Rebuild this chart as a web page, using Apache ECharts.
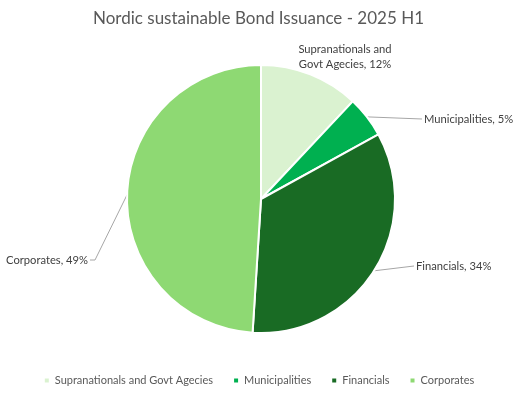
<!DOCTYPE html>
<html>
<head>
<meta charset="utf-8">
<script src="https://cdn.jsdelivr.net/npm/echarts@6/dist/echarts.min.js"></script>
<style>html,body{margin:0;padding:0;background:#fff}#c{width:517px;height:396px}</style>
</head>
<body>
<div id="c"></div>
<script>
const categories = ['Supranationals and Govt Agecies', 'Municipalities', 'Financials', 'Corporates'];
const labelTexts = ['Supranationals and\nGovt Agecies', 'Municipalities', 'Financials', 'Corporates'];
const shares = [12, 5, 34, 49];
const colors = ['#DAF2D0', '#00B050', '#196B24', '#8ED973'];
const labelSpots = [
  {x: 345, y: 57, align: 'center'},
  {x: 424, y: 119, align: 'left'},
  {x: 416, y: 266, align: 'left'},
  {x: 88, y: 260, align: 'right'}
];
const font = 'Lato, Open Sans, sans-serif';
const CX = 261, CY = 199, R = 134;
const chart = echarts.init(document.getElementById('c'));
function edgePoint(i) {
  const total = shares.reduce((a, b) => a + b, 0);
  let before = 0;
  for (let k = 0; k < i; k++) before += shares[k];
  const mid = (before + shares[i] / 2) / total * Math.PI * 2;
  return [CX + R * Math.sin(mid), CY - R * Math.cos(mid)];
}
chart.setOption({
  animation: false,
  title: {
    text: 'Nordic sustainable Bond Issuance - 2025 H1',
    left: 'center', top: 5,
    textStyle: {fontFamily: font, fontSize: 17, fontWeight: 'normal', color: '#595959'}
  },
  legend: {
    bottom: 5, left: 'center',
    itemWidth: 6, itemHeight: 6, itemGap: 19, icon: 'rect',
    textStyle: {fontFamily: font, fontSize: 11, color: '#595959'},
    data: categories
  },
  series: [{
    type: 'pie',
    center: [CX, CY],
    radius: R,
    startAngle: 90,
    clockwise: true,
    itemStyle: {borderColor: '#fff', borderWidth: 2},
    label: {
      show: true, overflow: 'none',
      fontFamily: font, fontSize: 11.2, color: '#404040', lineHeight: 15,
      formatter: p => labelTexts[p.dataIndex] + ', ' + shares[p.dataIndex] + '%'
    },
    labelLine: {show: true, lineStyle: {color: '#a6a6a6', width: 1}},
    labelLayout: p => {
      const i = p.dataIndex;
      const s = labelSpots[i];
      const out = {x: s.x, y: s.y, align: s.align, verticalAlign: 'middle'};
      if (i !== 0) {
        const start = edgePoint(i);
        const endX = s.align === 'left' ? s.x - 2 : s.x + 2;
        const bendX = s.align === 'left' ? endX : endX + 5;
        out.labelLinePoints = [start, [bendX, s.y], [endX, s.y]];
      }
      return out;
    },
    data: categories.map((c, i) => ({
      name: c, value: shares[i],
      itemStyle: {color: colors[i]},
      labelLine: {show: i !== 0}
    }))
  }]
});
</script>
</body>
</html>
